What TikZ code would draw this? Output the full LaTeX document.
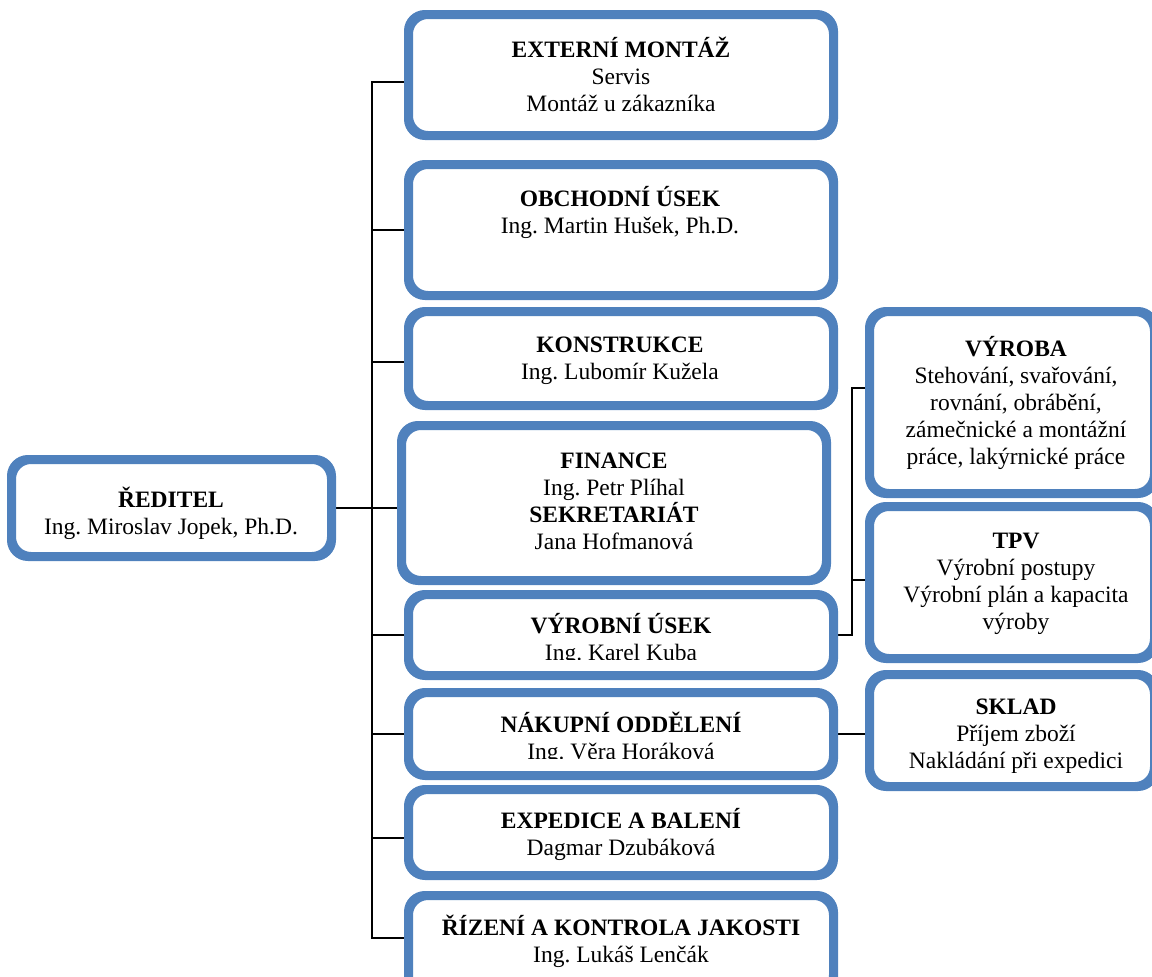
\documentclass[tikz,border=0pt]{standalone}
\usepackage{fontspec}
\setmainfont{Liberation Serif}
\definecolor{boxblue}{HTML}{4F81BD}
\frenchspacing
% fixed-height strut so every text block starts 22pt above its first baseline
\newcommand\hdstrut{\rule{0pt}{22pt}}
\begin{document}
\begin{tikzpicture}[x=1pt,y=-1pt,
  unit/.style={draw=boxblue, line width=6pt, rounded corners=18pt, fill=white, inner sep=0pt},
  txt/.style={anchor=north, inner sep=0pt, align=center, font=\fontsize{23.5}{27}\selectfont},
  conn/.style={draw=black, line width=2pt}]
\clip (0,0) rectangle (1152,977);

% boxes
\node[unit, minimum width=317pt, minimum height=94pt]  (reditel)  at (171.5,508) {};
\node[unit, minimum width=422pt, minimum height=118pt] (ext)      at (621,75) {};
\node[unit, minimum width=422pt, minimum height=128pt] (obch)     at (621,230) {};
\node[unit, minimum width=422pt, minimum height=91pt]  (konstr)   at (621,358.5) {};
\node[unit, minimum width=422pt, minimum height=152pt] (finance)  at (614,503) {};
\node[unit, minimum width=422pt, minimum height=78pt]  (vyrobni)  at (621,635) {};
\node[unit, minimum width=422pt, minimum height=80pt]  (nakup)    at (621,734) {};
\node[unit, minimum width=422pt, minimum height=83pt]  (exped)    at (621,832.5) {};
\node[unit, minimum width=422pt, minimum height=96pt]  (rizeni)   at (621,945) {};
\node[unit, minimum width=282pt, minimum height=179pt] (vyroba)   at (1012,402.5) {};
\node[unit, minimum width=282pt, minimum height=149pt] (tpv)      at (1012,582.5) {};
\node[unit, minimum width=282pt, minimum height=109pt] (sklad)    at (1012,730.5) {};

% connectors: main trunk on the left, production bus on the right
\coordinate (trunk) at (372,0);
\coordinate (rbus) at (852,0);
\draw[conn] ([yshift=-7pt]ext.west) -- ([yshift=-7pt]ext.west -| trunk) |- ([yshift=7pt]rizeni.west);
\draw[conn] (obch.west -| trunk) -- (obch.west);
\draw[conn] ([yshift=-3pt]konstr.west -| trunk) -- ([yshift=-3pt]konstr.west);
\draw[conn] (reditel.east) -- (reditel.east -| finance.west);
\draw[conn] (vyrobni.west -| trunk) -- (vyrobni.west);
\draw[conn] (nakup.west -| trunk) -- (nakup.west);
\draw[conn] ([yshift=-5pt]exped.west -| trunk) -- ([yshift=-5pt]exped.west);
\draw[conn] (vyrobni.east) -- (vyrobni.east -| rbus) |- ([yshift=15pt]vyroba.west);
\draw[conn] ([yshift=3pt]tpv.west -| rbus) -- ([yshift=3pt]tpv.west);
\draw[conn] (nakup.east) -- (nakup.east -| sklad.west);

% redraw box borders over the connector ends
\foreach \b in {reditel,ext,obch,konstr,finance,vyrobni,nakup,exped,rizeni,vyroba,tpv,sklad}{
  \draw[boxblue, line width=6pt, rounded corners=18pt]
    (\b.south west) rectangle (\b.north east);
}

% texts
\node[txt] (reditel-t) at (171,485) {\hdstrut\textbf{ŘEDITEL}\\Ing. Miroslav Jopek, Ph.D.};
\node[txt] (ext-t)     at (621,35)  {\hdstrut\textbf{EXTERNÍ MONTÁŽ}\\Servis\\Montáž u zákazníka};
\node[txt] (obch-t)    at (620,184) {\hdstrut\textbf{OBCHODNÍ ÚSEK}\\Ing. Martin Hušek, Ph.D.};
\node[txt] (konstr-t)  at (620,330) {\hdstrut\textbf{KONSTRUKCE}\\Ing. Lubomír Kužela};
\node[txt] (finance-t) at (614,446) {\hdstrut\textbf{FINANCE}\\Ing. Petr Plíhal\\\textbf{SEKRETARIÁT}\\Jana Hofmanová};
\begin{scope}
  \clip (400,600) rectangle (840,659);
  \node[txt] (vyrobni-t) at (621,611) {\hdstrut\textbf{VÝROBNÍ ÚSEK}\\Ing. Karel Kuba};
\end{scope}
\begin{scope}
  \clip (400,695) rectangle (840,758);
  \node[txt] (nakup-t) at (621,710) {\hdstrut\textbf{NÁKUPNÍ ODDĚLENÍ}\\Ing. Věra Horáková};
\end{scope}
\node[txt] (exped-t)   at (621,806) {\hdstrut\textbf{EXPEDICE A BALENÍ}\\Dagmar Dzubáková};
\node[txt] (rizeni-t)  at (621,913) {\hdstrut\textbf{ŘÍZENÍ A KONTROLA JAKOSTI}\\Ing. Lukáš Lenčák};
\node[txt] (vyroba-t)  at (1016,334) {\hdstrut\textbf{VÝROBA}\\Stehování, svařování,\\rovnání, obrábění,\\zámečnické a montážní\\práce, lakýrnické práce};
\node[txt] (tpv-t)     at (1016,526) {\hdstrut\textbf{TPV}\\Výrobní postupy\\Výrobní plán a kapacita\\výroby};
\node[txt] (sklad-t)   at (1016,692) {\hdstrut\textbf{SKLAD}\\Příjem zboží\\Nakládání při expedici};
\end{tikzpicture}
\end{document}
